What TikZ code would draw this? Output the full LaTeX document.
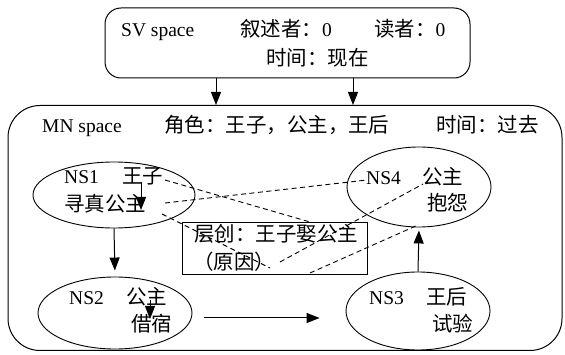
\documentclass[tikz,border=0pt]{standalone}
\usepackage{fontspec}
\setmainfont{Liberation Serif}
\newfontfamily\cjk[Scale=1.05]{Noto Sans CJK SC}
\newcommand{\zh}[1]{{\cjk #1}}
\usetikzlibrary{arrows.meta,shapes.geometric}
\tikzset{
  txt/.style={anchor=base west, inner sep=0pt, font=\fontsize{19.5}{23}\selectfont},
  ell/.style={draw, ellipse, line width=0.9pt, inner sep=0pt},
  arr/.style={-{Triangle[length=13pt,width=10pt]}, line width=1pt},
  dsh/.style={dashed, dash pattern=on 5pt off 3.5pt, line width=0.9pt},
  boxline/.style={draw, line width=1pt},
}
\begin{document}
\begin{tikzpicture}[x=1pt,y=-1pt]
\useasboundingbox (0,0) rectangle (565,355);
% outer frames
\node[boxline, rounded corners=16pt, minimum width=365pt, minimum height=70pt] (sv) at (287.5,43) {};
\node[boxline, rounded corners=32pt, minimum width=554pt, minimum height=245pt] (mn) at (285,228) {};
% SV texts
\node[txt] (svt) at (121,37) {SV space};
\node[txt] (svn) at (240,37) {\zh{叙述者：}0};
\node[txt] (svr) at (374,37) {\zh{读者：}0};
\node[txt] (svtime) at (266,66) {\zh{时间：现在}};
% MN texts
\node[txt] (mnt) at (42,133) {MN space};
\node[txt] (mnr) at (164,133) {\zh{角色：王子，公主，王后}};
\node[txt] (mntime) at (436,133) {\zh{时间：过去}};
% ellipses
\node[ell, minimum width=162pt, minimum height=66pt] (ns1) at (114,195) {};
\node[ell, minimum width=154pt, minimum height=72pt] (ns2) at (115,313) {};
\node[ell, minimum width=144pt, minimum height=78pt] (ns3) at (418,311) {};
\node[ell, minimum width=144pt, minimum height=80pt] (ns4) at (419,187) {};
% middle box
\node[boxline, minimum width=185pt, minimum height=52pt, inner sep=0pt] (cause) at (274.5,249) {};
% ellipse texts
\node[txt] (n1a) at (64,184) {NS1};
\node[txt] (n1b) at (122,184) {\zh{王子}};
\node[txt] (n1c) at (64,212) {\zh{寻真公主}};
\node[txt] (n2a) at (69,305) {NS2};
\node[txt] (n2b) at (126,305) {\zh{公主}};
\node[txt] (n2c) at (131,331) {\zh{借宿}};
\node[txt] (n3a) at (369,305) {NS3};
\node[txt] (n3b) at (426,305) {\zh{王后}};
\node[txt] (n3c) at (432,331) {\zh{试验}};
\node[txt] (n4a) at (366,185) {NS4};
\node[txt] (n4b) at (422,185) {\zh{公主}};
\node[txt] (n4c) at (427,211) {\zh{抱怨}};
\node[txt] (c1) at (194,242) {\zh{层创：王子娶公主}};
\node[txt] (c2) at (193,270) {\zh{（原因）}};
% named coordinates
\coordinate (a1) at (216,0);
\coordinate (a2) at (353,0);
\coordinate (h) at (0,318);
\coordinate (s1a) at (141,182);
\coordinate (s1b) at (141,210);
\coordinate (s2a) at (150,300);
\coordinate (s2b) at (150,319);
\coordinate (d1a) at (165,180);
\coordinate (d1b) at (310,222);
\coordinate (d2a) at (165,203);
\coordinate (d2b) at (367,180);
\coordinate (d3a) at (162,214);
\coordinate (d3b) at (270,268);
\coordinate (d4a) at (280,262);
\coordinate (d4b) at (423,184);
\coordinate (d5a) at (310,273);
\coordinate (d5b) at (418,225);
% arrows
\draw[arr] (sv.south -| a1) -- (mn.north -| a1);
\draw[arr] (sv.south -| a2) -- (mn.north -| a2);
\draw[arr, shorten >=6pt] (ns1.south) -- (ns2.north);
\draw[arr, shorten <=12pt, shorten >=26pt] (ns2.east |- h) -- (ns3.west |- h);
\draw[arr, shorten >=3pt] (ns3.north) -- (ns4.south);
\draw[arr] (s1a) -- (s1b);
\draw[arr] (s2a) -- (s2b);
% dashed
\draw[dsh] (d1a) -- (d1b);
\draw[dsh] (d2a) -- (d2b);
\draw[dsh] (d3a) -- (d3b);
\draw[dsh] (d4a) -- (d4b);
\draw[dsh] (d5a) -- (d5b);
\end{tikzpicture}
\end{document}
